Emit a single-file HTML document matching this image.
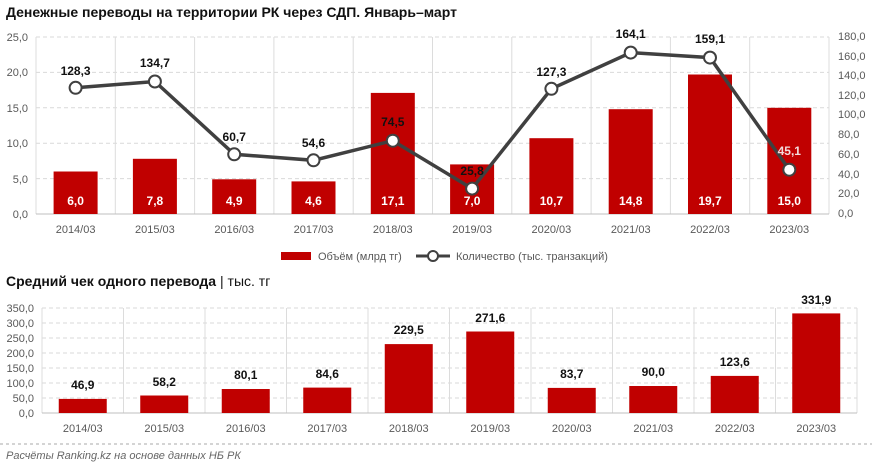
<!DOCTYPE html>
<html><head><meta charset="utf-8"><style>
body{margin:0;background:#fff}
svg{display:block;font-family:"Liberation Sans","DejaVu Sans",sans-serif}
.ax{font-size:11px;fill:#595959}
.bl{font-size:12px;font-weight:bold;fill:#111;text-anchor:middle}
.wl{font-size:12px;font-weight:bold;fill:#fff;text-anchor:middle}
.cat{font-size:11px;fill:#595959;text-anchor:middle}
</style></head><body>
<svg width="872" height="465" viewBox="0 0 872 465">
<text x="6" y="17" font-size="14" font-weight="bold" fill="#111">Денежные переводы на территории РК через СДП. Январь–март</text>
<!-- top grid -->
<g stroke="#d9d9d9" stroke-dasharray="4,3" stroke-width="1">
<line x1="36" x2="829" y1="37" y2="37"/><line x1="36" x2="829" y1="72.4" y2="72.4"/><line x1="36" x2="829" y1="107.8" y2="107.8"/><line x1="36" x2="829" y1="143.2" y2="143.2"/><line x1="36" x2="829" y1="178.6" y2="178.6"/>
</g>
<g stroke="#dcdcdc"><line x1="36" x2="36" y1="37" y2="214"/><line x1="115.3" x2="115.3" y1="37" y2="214"/><line x1="194.6" x2="194.6" y1="37" y2="214"/><line x1="273.9" x2="273.9" y1="37" y2="214"/><line x1="353.2" x2="353.2" y1="37" y2="214"/><line x1="432.5" x2="432.5" y1="37" y2="214"/><line x1="511.8" x2="511.8" y1="37" y2="214"/><line x1="591.1" x2="591.1" y1="37" y2="214"/><line x1="670.4" x2="670.4" y1="37" y2="214"/><line x1="749.7" x2="749.7" y1="37" y2="214"/><line x1="829" x2="829" y1="37" y2="214"/><line x1="36" x2="829" y1="214" y2="214" stroke="#bfbfbf"/></g>
<g class="ax" text-anchor="end"><text x="28" y="41">25,0</text><text x="28" y="76">20,0</text><text x="28" y="112">15,0</text><text x="28" y="147">10,0</text><text x="28" y="183">5,0</text><text x="28" y="218">0,0</text></g>
<g class="ax"><text x="838" y="40">180,0</text><text x="838" y="60">160,0</text><text x="838" y="79">140,0</text><text x="838" y="99">120,0</text><text x="838" y="118">100,0</text><text x="838" y="138">80,0</text><text x="838" y="158">60,0</text><text x="838" y="178">40,0</text><text x="838" y="197">20,0</text><text x="838" y="217">0,0</text></g>
<g fill="#c00000">
<rect x="53.6" y="171.5" width="44" height="42.5"/><rect x="132.9" y="158.8" width="44" height="55.2"/><rect x="212.2" y="179.3" width="44" height="34.7"/><rect x="291.5" y="181.4" width="44" height="32.6"/><rect x="370.8" y="92.9" width="44" height="121.1"/><rect x="450.1" y="164.4" width="44" height="49.6"/><rect x="529.4" y="138.2" width="44" height="75.8"/><rect x="608.7" y="109.2" width="44" height="104.8"/><rect x="688" y="74.5" width="44" height="139.5"/><rect x="767.3" y="107.8" width="44" height="106.2"/>
</g>
<g class="wl"><text x="75.6" y="205">6,0</text><text x="154.9" y="205">7,8</text><text x="234.2" y="205">4,9</text><text x="313.5" y="205">4,6</text><text x="392.8" y="205">17,1</text><text x="472.1" y="205">7,0</text><text x="551.4" y="205">10,7</text><text x="630.7" y="205">14,8</text><text x="710" y="205">19,7</text><text x="789.3" y="205">15,0</text></g>
<polyline fill="none" stroke="#404040" stroke-width="3.5" points="75.6,87.8 154.9,81.5 234.2,154.3 313.5,160.3 392.8,140.7 472.1,188.6 551.4,88.8 630.7,52.6 710,57.6 789.3,169.7"/>
<g fill="#fff" stroke="#404040" stroke-width="2"><circle cx="75.6" cy="87.8" r="6"/><circle cx="154.9" cy="81.5" r="6"/><circle cx="234.2" cy="154.3" r="6"/><circle cx="313.5" cy="160.3" r="6"/><circle cx="392.8" cy="140.7" r="6"/><circle cx="472.1" cy="188.6" r="6"/><circle cx="551.4" cy="88.8" r="6"/><circle cx="630.7" cy="52.6" r="6"/><circle cx="710" cy="57.6" r="6"/><circle cx="789.3" cy="169.7" r="6"/></g>
<g class="bl"><text x="75.6" y="75">128,3</text><text x="154.9" y="67">134,7</text><text x="234.2" y="141">60,7</text><text x="313.5" y="147">54,6</text><text x="392.8" y="126">74,5</text><text x="472.1" y="175">25,8</text><text x="551.4" y="76">127,3</text><text x="630.7" y="38">164,1</text><text x="710" y="43">159,1</text><text x="789.3" y="155" fill="#f2dcdc">45,1</text></g>
<g class="cat"><text x="75.6" y="233">2014/03</text><text x="154.9" y="233">2015/03</text><text x="234.2" y="233">2016/03</text><text x="313.5" y="233">2017/03</text><text x="392.8" y="233">2018/03</text><text x="472.1" y="233">2019/03</text><text x="551.4" y="233">2020/03</text><text x="630.7" y="233">2021/03</text><text x="710" y="233">2022/03</text><text x="789.3" y="233">2023/03</text></g>
<rect x="281" y="252" width="30" height="8" fill="#c00000"/><text x="318" y="260" class="ax">Объём (млрд тг)</text>
<line x1="416" x2="450" y1="256" y2="256" stroke="#404040" stroke-width="3"/><circle cx="433" cy="256" r="5" fill="#fff" stroke="#404040" stroke-width="2"/><text x="456" y="260" class="ax">Количество (тыс. транзакций)</text>
<text x="6" y="286" font-size="14" font-weight="bold" fill="#111">Средний чек одного перевода <tspan font-weight="normal">| тыс. тг</tspan></text>
<!-- bottom -->
<g stroke="#d9d9d9" stroke-dasharray="4,3"><line x1="42" x2="857" y1="308" y2="308"/><line x1="42" x2="857" y1="323" y2="323"/><line x1="42" x2="857" y1="338" y2="338"/><line x1="42" x2="857" y1="353" y2="353"/><line x1="42" x2="857" y1="368" y2="368"/><line x1="42" x2="857" y1="383" y2="383"/><line x1="42" x2="857" y1="398" y2="398"/></g>
<g stroke="#dcdcdc"><line x1="42" x2="42" y1="308" y2="413"/><line x1="123.5" x2="123.5" y1="308" y2="413"/><line x1="205" x2="205" y1="308" y2="413"/><line x1="286.5" x2="286.5" y1="308" y2="413"/><line x1="368" x2="368" y1="308" y2="413"/><line x1="449.5" x2="449.5" y1="308" y2="413"/><line x1="531" x2="531" y1="308" y2="413"/><line x1="612.5" x2="612.5" y1="308" y2="413"/><line x1="694" x2="694" y1="308" y2="413"/><line x1="775.5" x2="775.5" y1="308" y2="413"/><line x1="857" x2="857" y1="308" y2="413"/><line x1="42" x2="857" y1="413" y2="413" stroke="#bfbfbf"/></g>
<g class="ax" text-anchor="end"><text x="34" y="312">350,0</text><text x="34" y="327">300,0</text><text x="34" y="342">250,0</text><text x="34" y="357">200,0</text><text x="34" y="372">150,0</text><text x="34" y="387">100,0</text><text x="34" y="402">50,0</text><text x="34" y="417">0,0</text></g>
<g fill="#c00000"><rect x="58.75" y="398.9" width="48" height="14.1"/><rect x="140.25" y="395.5" width="48" height="17.5"/><rect x="221.75" y="389" width="48" height="24"/><rect x="303.25" y="387.6" width="48" height="25.4"/><rect x="384.75" y="344.1" width="48" height="68.9"/><rect x="466.25" y="331.5" width="48" height="81.5"/><rect x="547.75" y="387.9" width="48" height="25.1"/><rect x="629.25" y="386" width="48" height="27"/><rect x="710.75" y="375.9" width="48" height="37.1"/><rect x="792.25" y="313.4" width="48" height="99.6"/></g>
<g class="bl"><text x="82.75" y="389">46,9</text><text x="164.25" y="386">58,2</text><text x="245.75" y="379">80,1</text><text x="327.25" y="378">84,6</text><text x="408.75" y="334">229,5</text><text x="490.25" y="322">271,6</text><text x="571.75" y="378">83,7</text><text x="653.25" y="376">90,0</text><text x="734.75" y="366">123,6</text><text x="816.25" y="304">331,9</text></g>
<g class="cat"><text x="82.75" y="432">2014/03</text><text x="164.25" y="432">2015/03</text><text x="245.75" y="432">2016/03</text><text x="327.25" y="432">2017/03</text><text x="408.75" y="432">2018/03</text><text x="490.25" y="432">2019/03</text><text x="571.75" y="432">2020/03</text><text x="653.25" y="432">2021/03</text><text x="734.75" y="432">2022/03</text><text x="816.25" y="432">2023/03</text></g>
<line x1="0" x2="872" y1="444" y2="444" stroke="#aaa" stroke-dasharray="3,3"/>
<text x="6" y="459" font-size="11" font-style="italic" fill="#666">Расчёты Ranking.kz на основе данных НБ РК</text>
</svg>
</body></html>
